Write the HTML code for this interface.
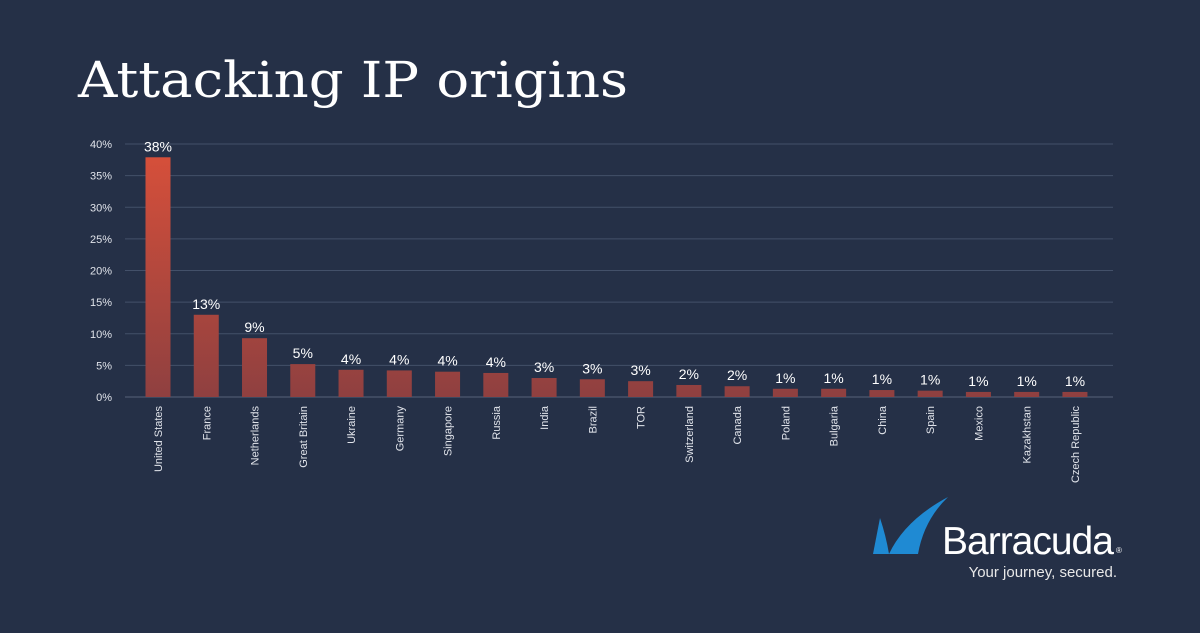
<!DOCTYPE html>
<html><head><meta charset="utf-8"><style>
body{margin:0;width:1200px;height:628px;background:#253047;overflow:hidden;font-family:"Liberation Sans",sans-serif}
</style></head><body>
<svg width="1200" height="628">
<defs><linearGradient id="g" gradientUnits="userSpaceOnUse" x1="0" y1="144" x2="0" y2="397">
<stop offset="0" stop-color="#d9503a"/><stop offset="1" stop-color="#8f4040"/></linearGradient></defs>
<text x="78" y="97" font-family="DejaVu Serif,serif" font-size="50" fill="#fff" textLength="550" lengthAdjust="spacingAndGlyphs">Attacking IP origins</text>
<g id="grid"></g><g id="bars"></g>
<g>
<path d="M873 554 L880 518 Q886 536 889 554 Z" fill="#1f8ad3"/>
<path d="M889 554 Q905 520 948 497 Q924 520 918 554 Z" fill="#1f8ad3"/>
<text x="942" y="554" font-size="39" fill="#fff" letter-spacing="-1">Barracuda</text>
<text x="1116" y="553" font-size="8" fill="#fff">®</text>
<text x="1117" y="577" font-size="15" fill="#e8e8e8" text-anchor="end">Your journey, secured.</text>
</g>
</svg>
<script>
const categories=["United States","France","Netherlands","Great Britain","Ukraine","Germany","Singapore","Russia","India","Brazil","TOR","Switzerland","Canada","Poland","Bulgaria","China","Spain","Mexico","Kazakhstan","Czech Republic"];
const values=[37.9,13.0,9.3,5.2,4.3,4.2,4.0,3.8,3.0,2.8,2.5,1.9,1.7,1.3,1.3,1.1,1.0,0.8,0.8,0.8];
const ticks=[0,5,10,15,20,25,30,35,40];
const NS="http://www.w3.org/2000/svg";
const y=v=>397-v*253/40;
const x=i=>158+i*48.26;
function mk(t,a,p,txt){const e=document.createElementNS(NS,t);for(const k in a)e.setAttribute(k,a[k]);if(txt!=null)e.textContent=txt;p.appendChild(e);return e;}
const grid=document.getElementById('grid'),bars=document.getElementById('bars');
ticks.forEach(t=>{
 const l=mk('line',{x1:125,x2:1113,y1:y(t),y2:y(t),stroke:t?'#435069':'#56627a','stroke-width':1},grid);
 
 
 const tx=mk('text',{x:112,y:y(t)+4,'font-size':11,fill:'#e0e3ea','text-anchor':'end'},grid,t+'%');
 
 
});
categories.forEach((c,i)=>{
 const r=mk('rect',{x:x(i)-12.5,y:y(values[i]),width:25,height:397-y(values[i]),fill:'url(#g)'},bars);
 
 
 const lb=mk('text',{x:x(i),y:y(values[i])-6,'font-size':14,fill:'#fff','text-anchor':'middle'},bars,Math.round(values[i])+'%');
 
 
 const ct=mk('text',{x:0,y:0,'font-size':11,fill:'#e0e3ea','text-anchor':'end',transform:`translate(${x(i)+4},406) rotate(-90)`},bars,c);
 
 
});
</script>
</body></html>
